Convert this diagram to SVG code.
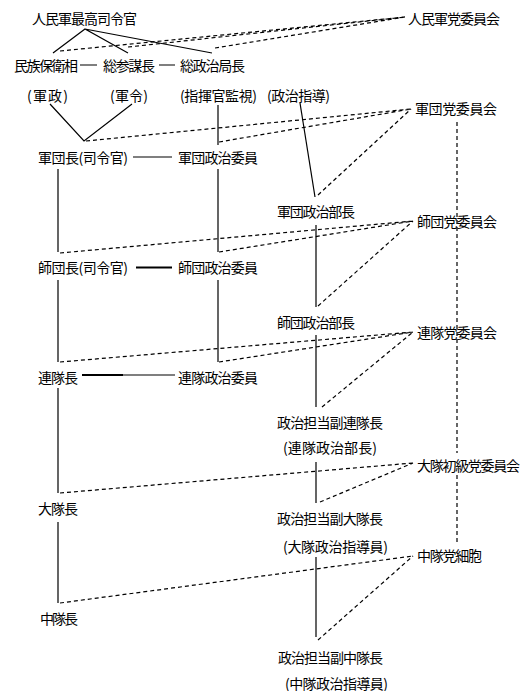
<svg xmlns="http://www.w3.org/2000/svg" width="525" height="691" viewBox="0 0 525 691">
<style>
text{font-family:"Noto Sans CJK JP","Noto Sans CJK SC",sans-serif;font-size:14px;fill:#000}
.s{stroke:#000;stroke-width:1.2;fill:none}
.t{stroke:#000;stroke-width:2;fill:none}
.d{stroke:#000;stroke-width:1.2;fill:none;stroke-dasharray:4,3}
</style>
<rect width="525" height="691" fill="#fff"/>
<g id="connectors">
<path class="s" d="M53,53 L85,29 L128,53 M85,29 L212,53"/>
<path class="s" d="M80,65 H97 M159,65 H175"/>
<path class="d" d="M60,51 L405,17 M128,47 L405,17 M215,48 L405,17"/>
<path class="s" d="M50,104 L84,141 L132,104"/>
<path class="s" d="M218,105 V145"/>
<path class="s" d="M300,103 L315,197"/>
<path class="s" d="M133,157 H172"/>
<path class="t" d="M136,267.5 H172"/>
<path class="t" d="M82,375 H123"/>
<path class="s" d="M123,375 H175"/>
<path class="s" d="M58,169 V252 M58,280 V362 M58,388 V493 M58,522 V603"/>
<path class="s" d="M218,169 V252 M218,280 V362"/>
<path class="s" d="M316,225 V307 M316,335 V407 M316,462 V503 M316,557 V637"/>
<path class="d" d="M86,141 L411,109 M219,142 L411,109 M318,195 L411,109"/>
<path class="d" d="M60,253 L413,221 M219,252 L413,221 M318,306 L413,221"/>
<path class="d" d="M60,362 L413,332 M219,362 L413,332 M322,407 L413,332"/>
<path class="d" d="M60,493 L413,463 M320,502 L413,463"/>
<path class="d" d="M60,603 L413,556 M318,640 L413,556"/>
<path class="d" d="M457,122 V453 M457,475 V545"/>
</g>
<g id="n-supreme"><text x="32" y="23.5" textLength="105">人民軍最高司令官</text></g>
<g id="n-pa-party"><text x="408" y="23.5" textLength="92">人民軍党委員会</text></g>
<g id="n-defense"><text x="14" y="70.5" textLength="64">民族保衛相</text></g>
<g id="n-chief-staff"><text x="103" y="70.5" textLength="52">総参謀長</text></g>
<g id="n-gpb"><text x="180" y="70.5" textLength="65">総政治局長</text></g>
<g id="n-gunsei"><text x="27" y="100.5" textLength="41">(軍政)</text></g>
<g id="n-gunrei"><text x="110" y="100.5" textLength="38">(軍令)</text></g>
<g id="n-kanshi"><text x="180" y="100.5" textLength="77">(指揮官監視)</text></g>
<g id="n-shido"><text x="267" y="100.5" textLength="63">(政治指導)</text></g>
<g id="n-corps-cmd"><text x="38" y="162.5" textLength="90">軍団長(司令官)</text></g>
<g id="n-corps-pc"><text x="178" y="162.5" textLength="80">軍団政治委員</text></g>
<g id="n-corps-party"><text x="415" y="113.5" textLength="82">軍団党委員会</text></g>
<g id="n-corps-pd"><text x="277" y="216.5" textLength="78">軍団政治部長</text></g>
<g id="n-div-party"><text x="417" y="226.5" textLength="80">師団党委員会</text></g>
<g id="n-div-cmd"><text x="38" y="272.5" textLength="90">師団長(司令官)</text></g>
<g id="n-div-pc"><text x="178" y="272.5" textLength="80">師団政治委員</text></g>
<g id="n-div-pd"><text x="277" y="327.5" textLength="78">師団政治部長</text></g>
<g id="n-reg-party"><text x="417" y="337.5" textLength="80">連隊党委員会</text></g>
<g id="n-reg-cmd"><text x="38" y="382.5" textLength="40">連隊長</text></g>
<g id="n-reg-pc"><text x="178" y="382.5" textLength="80">連隊政治委員</text></g>
<g id="n-reg-dep"><text x="277" y="427.5" textLength="106">政治担当副連隊長</text><text x="283" y="452.5" textLength="94">(連隊政治部長)</text></g>
<g id="n-bn-party"><text x="417" y="470.5" textLength="103">大隊初級党委員会</text></g>
<g id="n-bn-cmd"><text x="38" y="513.5" textLength="40">大隊長</text></g>
<g id="n-bn-dep"><text x="277" y="523.5" textLength="106">政治担当副大隊長</text><text x="283" y="551.5" textLength="105">(大隊政治指導員)</text></g>
<g id="n-co-cell"><text x="417" y="560.5" textLength="65">中隊党細胞</text></g>
<g id="n-co-cmd"><text x="40" y="623.5" textLength="38">中隊長</text></g>
<g id="n-co-dep"><text x="278" y="662.5" textLength="105">政治担当副中隊長</text><text x="285" y="688.5" textLength="103">(中隊政治指導員)</text></g>
</svg>
